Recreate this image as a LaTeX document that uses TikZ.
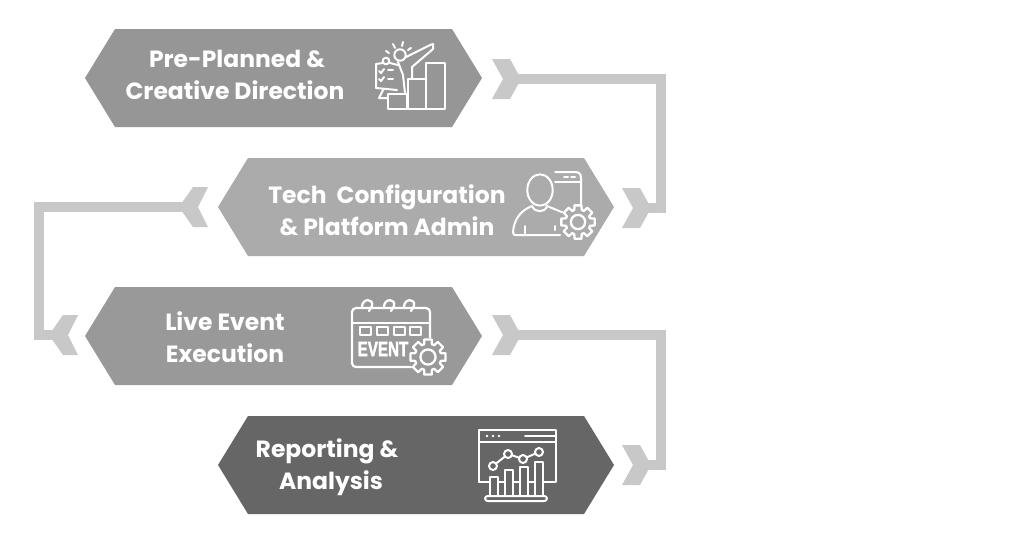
\documentclass[tikz,border=0pt]{standalone}
\usepackage{fontspec}
\setmainfont{Poppins}
\newfontfamily\evfont[FakeBold=2.2]{Liberation Sans}
\newcommand{\hexagon}[5]{% left x, right x, top y, bottom y, colour
  \fill[#5] (#1,{(#3+#4)/2}) -- (#1+30,#3) -- (#2-30,#3) -- (#2,{(#3+#4)/2}) -- (#2-30,#4) -- (#1+30,#4) -- cycle;}
\newcommand{\chevR}[3]{% name, x of back, mid y
  \fill[flowc] (#2,#3-20) -- (#2+18,#3-20) -- (#2+29,#3) -- (#2+18,#3+20) -- (#2,#3+20) -- (#2+11,#3) -- cycle;
  \coordinate (#1) at (#2+25,#3);}
\newcommand{\chevL}[3]{%
  \fill[flowc] (#2,#3-20) -- (#2-15,#3-20) -- (#2-29,#3) -- (#2-15,#3+20) -- (#2,#3+20) -- (#2-10,#3) -- cycle;
  \coordinate (#1) at (#2-25,#3);}
\newcommand{\gearicon}[3]{% x, y, outer radius
  \fill[hexfill] (#1,#2) circle (#3+1);
  \draw[icon,line join=round] ({#1+#3*cos(-12)},{#2+#3*sin(-12)})
    \foreach \a in {0,45,...,315} {
      -- ({#1+#3*cos(\a-12)},{#2+#3*sin(\a-12)})
      -- ({#1+#3*cos(\a+12)},{#2+#3*sin(\a+12)})
      -- ({#1+0.74*#3*cos(\a+17)},{#2+0.74*#3*sin(\a+17)})
      -- ({#1+0.74*#3*cos(\a+28)},{#2+0.74*#3*sin(\a+28)})
    } -- cycle;
  \draw[icon] (#1,#2) circle (0.42*#3);}
\definecolor{flowc}{HTML}{C8C8C8}
\begin{document}
\begin{tikzpicture}[x=0.75pt,y=-0.75pt,
  icon/.style={draw=white,line width=1.7pt,line cap=round,line join=round},
  thin icon/.style={icon,line width=1.5pt},
  flow/.style={draw=flowc,line width=7.5pt,line cap=butt,line join=miter},
  lab/.style={text=white,font=\fontsize{17.6pt}{24pt}\selectfont\bfseries,inner sep=0pt,anchor=base}]
\useasboundingbox (0,0) rectangle (1024,540);
\fill[white] (0,0) rectangle (1024,540);
% hexagons
\colorlet{hexfill}{black!33}
\hexagon{85}{482}{29}{127}{black!41}
\hexagon{218}{614}{158}{256}{black!33}
\hexagon{85}{482}{287}{385}{black!40}
\hexagon{218}{614}{416}{514}{black!60}
% connectors
\chevR{a1}{492}{79}
\chevR{a2}{622}{208}
\chevL{b1}{208}{207}
\chevL{b2}{78}{335}
\chevR{c1}{492}{335}
\chevR{c2}{622}{465}
\draw[flow] (a1) -- (661,79) -- (661,208) -- (a2);
\draw[flow] (b1) -- (39,207) -- (39,335) -- (b2);
\draw[flow] (c1) -- (661,335) -- (661,465) -- (c2);
% labels
\node[lab] (t1a) at (237,67) {Pre-Planned \&};
\node[lab] (t1b) at (235,99) {Creative Direction};
\node[lab] (t2a) at (387,203) {Tech\ \ Configuration};
\node[lab] (t2b) at (387,235) {\& Platform Admin};
\node[lab] (t3a) at (225,330) {Live Event};
\node[lab] (t3b) at (225,362) {Execution};
\node[lab] (t4a) at (327,457) {Reporting \&};
\node[lab] (t4b) at (331,489) {Analysis};
% icon 1
\begin{scope}
\draw[thin icon] (388,94) rectangle (407,109);
\draw[thin icon] (408,79) rectangle (426,109);
\draw[thin icon] (426,63) rectangle (445,109);
\draw[thin icon] (400,55) circle (5.7);
\draw[thin icon] (406,57) -- (430,45) -- (433,44) -- (433,49) -- (412,67) -- (412,78);
\draw[thin icon] (398,62) -- (403,75) -- (405,93);
\draw[thin icon] (383,63) -- (376,64) -- (376,88) -- (397,90);
\draw[thin icon] (390,63) -- (398,65);
\draw[thin icon] (386,61) circle (3.3);
\draw[thin icon] (383,90) -- (379,98) -- (388,98);
\draw[thin icon] (379,71) -- (381,73) -- (384,69);
\draw[thin icon] (379,79) -- (381,81) -- (384,77);
\draw[thin icon] (388,70) -- (393,70);
\draw[thin icon] (388,79) -- (393,79);
\draw[thin icon] (393,44) -- (395,48);
\draw[thin icon] (403,42) -- (402,46);
\draw[thin icon] (411,48) -- (408,50);
\draw[thin icon] (386,51) -- (389,53);
\end{scope}
% icon 2
\begin{scope}
\draw[thin icon] (540,190) ellipse (12.7 and 15.7);
\draw[thin icon] (532,206) .. controls (535,213) and (545,213) .. (547,206);
\draw[thin icon] (532,206) .. controls (522,210) and (514,218) .. (513,232) .. controls (513,235) and (514,235) .. (516,235) -- (560,235);
\draw[thin icon] (547,206) -- (564,213);
\draw[thin icon] (525,226) -- (525,235);
\draw[thin icon] (555,226) -- (555,230);
\draw[thin icon] (555,172) -- (575,172) .. controls (579,172) and (581,174) .. (581,178) -- (581,205);
\draw[thin icon] (555,182) -- (581,182);
\draw[thin icon] (564,177) -- (568,177);
\draw[thin icon] (571,177) -- (575,177);
\gearicon{578}{222}{17}
\end{scope}
% icon 3
\begin{scope}
\colorlet{hexfill}{black!40}
\draw[icon,rounded corners=3pt] (412,367) -- (352,367) -- (352,308) -- (430,308) -- (430,340);
\draw[icon] (352,323) -- (430,323);
\foreach \x in {368,390,410} {
  \draw[icon] (\x-6,307) .. controls (\x-6,298) and (\x+6,298) .. (\x+4,306) -- (\x+1,311);
}
\foreach \x in {360,377,394,410} {
  \draw[thin icon] (\x,327) rectangle (\x+11,335);
}
\node[inner sep=0pt,text=white] (ev) at (383,349) {\evfont\bfseries\fontsize{12pt}{12pt}\selectfont\scalebox{0.95}[1.3]{EVENT}};
\gearicon{428}{357}{18}
\end{scope}
% icon 4
\begin{scope}
\draw[thin icon] (479,482) -- (479,430) -- (556,430) -- (556,482) -- (479,482);
\draw[thin icon] (479,442) -- (556,442);
\fill[white] (487,436) circle (1.4) (493,436) circle (1.4) (499,436) circle (1.4);
\draw[thin icon] (525,436) -- (555,436);
\draw[thin icon] (493,466) -- (508,454) -- (523,459) -- (539,452);
\foreach \x/\y in {490/477,505/470,520/467,535/462} {
  \fill[black!60] (\x,\y) rectangle (\x+7.5,496);
  \draw[thin icon] (\x,496) -- (\x,\y) -- (\x+7.5,\y) -- (\x+7.5,496);
}
\foreach \x/\y in {493/466,508/454,523/459,539/452} {
  \draw[thin icon,fill=black!60] (\x,\y) circle (4);
}
\draw[thin icon,rounded corners=2pt] (485,496) rectangle (547,501);
\end{scope}
\end{tikzpicture}
\end{document}
